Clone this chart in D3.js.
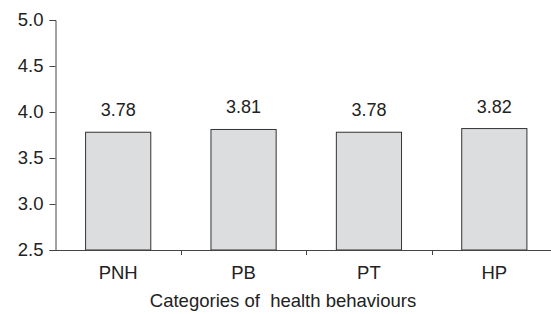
<!DOCTYPE html>
<html>
<head>
<meta charset="utf-8">
<script src="https://cdn.jsdelivr.net/npm/d3@7"></script>
<style>
  body { margin: 0; background: #fff; }
  text { font-family: "Liberation Sans", Arial, sans-serif; fill: #222; }
</style>
</head>
<body>
<script>
// chart data
const categories = ["PNH", "PB", "PT", "HP"];
const values = [3.78, 3.81, 3.78, 3.82];
const yTicks = [2.5, 3.0, 3.5, 4.0, 4.5, 5.0];

const width = 551, height = 314;

const svg = d3.select("body")
  .append("svg")
  .attr("width", width)
  .attr("height", height);

const x = d3.scaleBand()
  .domain(categories)
  .range([55.5, 557])
  .padding(0);

const y = d3.scaleLinear()
  .domain([2.5, 5.0])
  .range([250, 20]);

const barW = x.bandwidth() * 0.52;

// bars
svg.selectAll("rect.bar")
  .data(values)
  .enter()
  .append("rect")
  .attr("class", "bar")
  .attr("x", (d, i) => x(categories[i]) + (x.bandwidth() - barW) / 2)
  .attr("y", d => y(d))
  .attr("width", barW)
  .attr("height", d => y(2.5) - y(d))
  .attr("fill", "#dcdddf")
  .attr("stroke", "#333")
  .attr("stroke-width", 1);

// value labels
svg.selectAll("text.val")
  .data(values)
  .enter()
  .append("text")
  .attr("class", "val")
  .attr("x", (d, i) => x(categories[i]) + x.bandwidth() / 2)
  .attr("y", d => y(d) - 16)
  .attr("text-anchor", "middle")
  .style("font-size", "18px")
  .text(d => d.toFixed(2));

// y axis
const yAxis = d3.axisLeft(y)
  .tickValues(yTicks)
  .tickSize(6)
  .tickPadding(6)
  .tickFormat(d3.format(".1f"));

const gy = svg.append("g")
  .attr("transform", "translate(55.5,0)")
  .call(yAxis);
gy.selectAll("path, line").attr("stroke", "#444");
gy.selectAll("text").style("font-size", "18.5px").attr("fill", "#222");

// x axis: line plus ticks at category boundaries
svg.append("line")
  .attr("x1", 55.5).attr("x2", width)
  .attr("y1", y(2.5) + 0.5).attr("y2", y(2.5) + 0.5)
  .attr("stroke", "#444");

svg.selectAll("line.xtick")
  .data(categories.slice(1))
  .enter()
  .append("line")
  .attr("class", "xtick")
  .attr("x1", d => Math.round(x(d)) + 0.5)
  .attr("x2", d => Math.round(x(d)) + 0.5)
  .attr("y1", y(2.5))
  .attr("y2", y(2.5) + 5)
  .attr("stroke", "#444");

svg.selectAll("text.cat")
  .data(categories)
  .enter()
  .append("text")
  .attr("class", "cat")
  .attr("x", d => x(d) + x.bandwidth() / 2)
  .attr("y", 279)
  .attr("text-anchor", "middle")
  .style("font-size", "18.5px")
  .text(d => d);

svg.append("text")
  .attr("x", 283)
  .attr("y", 307)
  .attr("text-anchor", "middle")
  .style("font-size", "18.5px")
  .style("white-space", "pre")
  .attr("xml:space", "preserve")
  .text("Categories of  health behaviours");
</script>
</body>
</html>
